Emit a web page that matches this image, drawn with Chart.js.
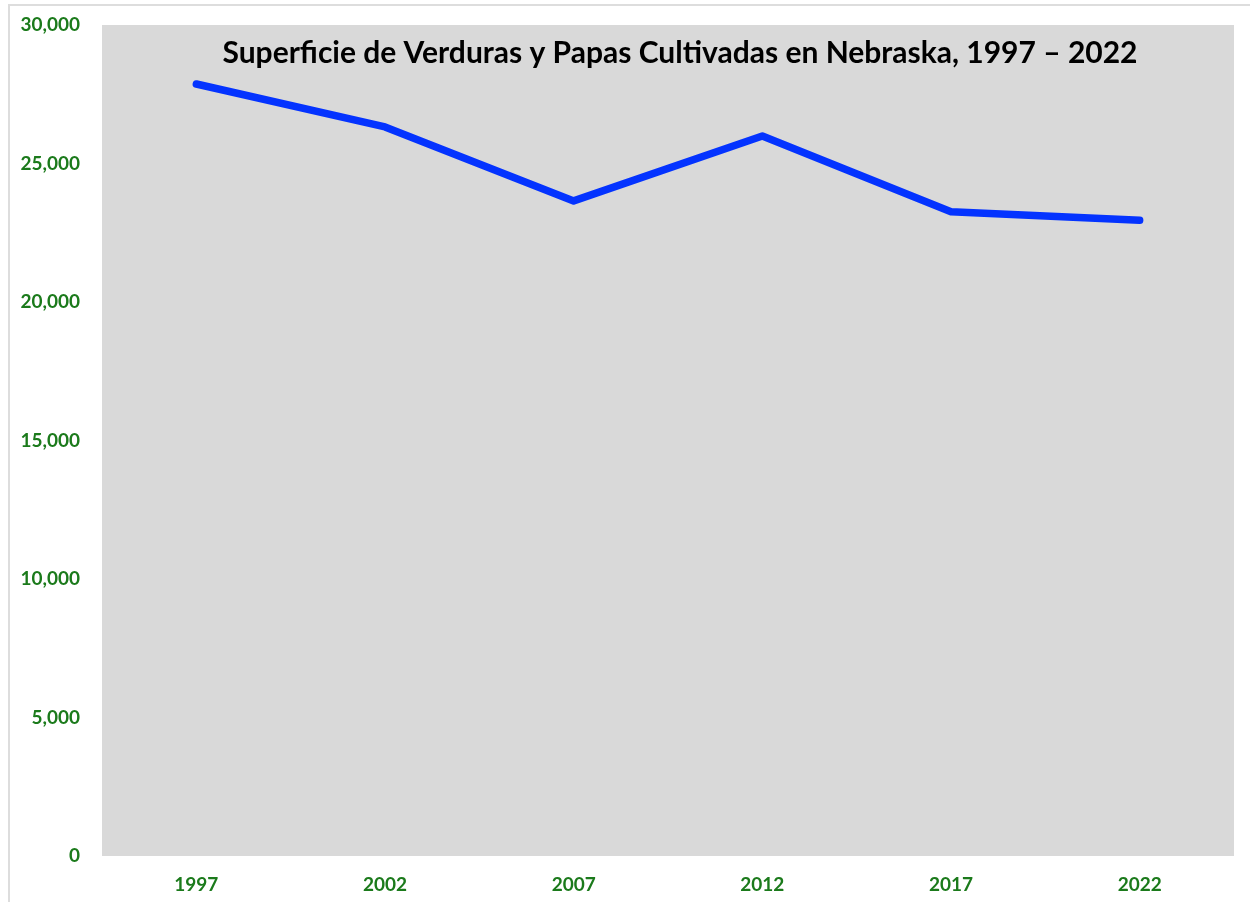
<!DOCTYPE html>
<html>
<head>
<meta charset="utf-8">
<script src="https://cdn.jsdelivr.net/npm/chart.js@4/dist/chart.umd.min.js"></script>
<style>
  html, body { margin: 0; padding: 0; background: #ffffff; }
  #frame { position: absolute; left: 8px; top: 4px; width: 1242px; height: 898px; border-left: 2px solid #dddddd; border-top: 2px solid #dddddd; }
  #wrap { position: absolute; left: 0; top: 0; width: 1250px; height: 902px; }
</style>
</head>
<body>
<div id="frame"></div>
<div id="wrap"><canvas id="c" width="1250" height="902"></canvas></div>
<script>
const titleText = "Superficie de Verduras y Papas Cultivadas en Nebraska, 1997 – 2022";
const years = ["1997", "2002", "2007", "2012", "2017", "2022"];
const acres = [27870, 26320, 23650, 25990, 23260, 22950];
const yTicks = [0, 5000, 10000, 15000, 20000, 25000, 30000];

const green = "#1b7a1b";

const bgPlugin = {
  id: "plotBg",
  beforeDraw(chart) {
    const a = chart.chartArea, ctx = chart.ctx;
    ctx.save();
    ctx.fillStyle = "#d9d9d9";
    ctx.fillRect(a.left, a.top, a.right - a.left, a.bottom - a.top);
    ctx.restore();
  },
  afterDraw(chart) {
    const a = chart.chartArea, ctx = chart.ctx;
    ctx.save();
    ctx.fillStyle = "#000000";
    ctx.font = "bold 30px Lato, 'Open Sans', sans-serif";
    ctx.textAlign = "center";
    ctx.textBaseline = "middle";
    ctx.fillText(titleText, a.left + (a.right - a.left) / 2 + 12, a.top + 28);
    ctx.restore();
  }
};

new Chart(document.getElementById("c"), {
  type: "line",
  data: {
    labels: years,
    datasets: [{
      data: acres,
      borderColor: "#0433ff",
      borderWidth: 7.5,
      borderCapStyle: "round",
      borderJoinStyle: "round",
      pointRadius: 0,
      tension: 0,
      fill: false
    }]
  },
  options: {
    responsive: false,
    animation: false,
    devicePixelRatio: 1,
    layout: { padding: { top: 25, right: 16, bottom: 0, left: 0 } },
    plugins: { legend: { display: false }, tooltip: { enabled: false }, title: { display: false } },
    scales: {
      x: {
        offset: true,
        grid: { display: false, drawTicks: false },
        border: { display: false },
        ticks: { color: green, font: { family: "Lato, 'Open Sans', sans-serif", size: 19, weight: "bold" }, padding: 17, maxRotation: 0 },
        afterFit(s) { s.height = 46; s.paddingLeft = 0; s.paddingRight = 0; }
      },
      y: {
        min: 0, max: 30000,
        grid: { display: false, drawTicks: false },
        border: { display: false },
        afterBuildTicks(s) { s.ticks = yTicks.map(v => ({ value: v })); },
        ticks: {
          color: green,
          font: { family: "Lato, 'Open Sans', sans-serif", size: 19, weight: "bold" },
          padding: 22,
          callback: v => v.toLocaleString("en-US")
        },
        afterFit(s) { s.width = 102; s.paddingTop = 0; s.paddingBottom = 0; }
      }
    }
  },
  plugins: [bgPlugin]
});
</script>
</body>
</html>
